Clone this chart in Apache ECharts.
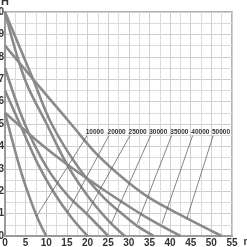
<!DOCTYPE html>
<html>
<head>
<meta charset="utf-8">
<script src="https://cdn.jsdelivr.net/npm/echarts@6/dist/echarts.min.js"></script>
<style>html,body{margin:0;padding:0;background:#fff}#c{width:247px;height:247px}</style>
</head>
<body>
<div id="c"></div>
<script>
const models = ['10000', '20000', '25000', '30000', '35000', '40000', '50000'];
const curve10000 = [[0,5.5],[2,4.1],[4,2.8],[6,1.7],[8,0.75],[10,0]];
const curve20000 = [[0,6.5],[3.6,5],[8,3.2],[12,1.9],[16,0.85],[20,0]];
const curve25000 = [[0,7.5],[4.8,5],[10,3.1],[15,1.85],[20,0.95],[25,0]];
const curve30000 = [[0,10],[4.8,7],[10.1,5],[15,3.2],[20,1.8],[25,0.7],[29,0]];
const curve35000 = [[0,10],[6.8,7],[11.3,5],[18,3],[24,1.7],[28.7,0.94],[32,0.45],[36,0]];
const curve40000 = [[0,5.5],[8.4,4.15],[15,3.2],[22,2.3],[28.5,1.5],[35,0.75],[42.5,0]];
const curve50000 = [[0,8.5],[5,7.4],[10,6.3],[16,5.0],[22,3.7],[28.5,2.6],[35,1.7],[44,0.8],[52.5,0]];
const curves = [curve10000, curve20000, curve25000, curve30000, curve35000, curve40000, curve50000];
// leader lines: label anchor -> point on curve
const leaderFrom = [[19.8,4.46],[25.1,4.46],[30.2,4.46],[35.2,4.46],[40.3,4.46],[45.4,4.46],[50.4,4.46]];
const leaderTo = [[7.7,0.9],[15.2,1.07],[20.0,1.07],[25.8,0.58],[32.1,0.58],[38.1,0.58],[44.1,0.8]];
const xTicks = [0,5,10,15,20,25,30,35,40,45,50,55];
const yTicks = [0,1,2,3,4,5,6,7,8,9,10];

const FONT = 'Liberation Sans Narrow, Liberation Sans, Arial';
const chart = echarts.init(document.getElementById('c'), null, {renderer: 'canvas'});
const series = [];
curves.forEach((c) => {
  series.push({
    type: 'line', data: c, smooth: 0.35, symbol: 'none', silent: true,
    lineStyle: {color: '#8a8a8a', width: 2.6}
  });
});
models.forEach((m, i) => {
  series.push({
    type: 'line', symbol: 'circle', symbolSize: 1, showSymbol: true, silent: true,
    itemStyle: {color: '#666'},
    lineStyle: {color: '#666', width: 0.8},
    data: [
      {value: leaderFrom[i], label: {show: true, formatter: m, position: 'top', offset: [8, 1], distance: 1,
        color: '#333', fontSize: 6.5, fontWeight: 'bold', fontFamily: 'Liberation Sans, Arial'}},
      {value: leaderTo[i], label: {show: false}}
    ]
  });
});

chart.setOption({
  animation: false,
  grid: {left: 5, top: 12, right: 15, bottom: 11, containLabel: false, outerBoundsMode: 'none',
    show: true, borderColor: '#9a9a9a', borderWidth: 1.5, backgroundColor: '#fff'},
  xAxis: {
    type: 'value', min: 0, max: 55, interval: 5,
    name: 'm³', nameLocation: 'end', nameGap: 3,
    nameTextStyle: {color: '#333', fontSize: 10, fontWeight: 'bold', verticalAlign: 'top', align: 'left', padding: [1,0,0,0], fontFamily: FONT},
    axisLine: {show: true, lineStyle: {color: '#9a9a9a', width: 2}},
    axisTick: {show: false},
    axisLabel: {show: true, margin: 2, color: '#333', fontSize: 10, fontWeight: 'bold', fontFamily: FONT,
      customValues: xTicks, formatter: v => String(v)},
    splitLine: {show: true, lineStyle: {color: '#cfcfcf', width: 1}},
    minorTick: {show: false, splitNumber: 2},
    minorSplitLine: {show: true, lineStyle: {color: '#dcdcdc', width: 1}}
  },
  yAxis: {
    type: 'value', min: 0, max: 10, interval: 1,
    name: 'H', nameLocation: 'end', nameGap: -2,
    nameTextStyle: {color: '#333', fontSize: 11, fontWeight: 'bold', fontFamily: 'Liberation Sans, Arial', align: 'center', verticalAlign: 'bottom'},
    axisLine: {show: true, lineStyle: {color: '#9a9a9a', width: 2}},
    axisTick: {show: false},
    axisLabel: {show: true, margin: 1, color: '#333', fontSize: 10, fontWeight: 'bold', fontFamily: FONT,
      customValues: yTicks},
    splitLine: {show: true, lineStyle: {color: '#cfcfcf', width: 1}},
    minorTick: {show: false, splitNumber: 2},
    minorSplitLine: {show: true, lineStyle: {color: '#dcdcdc', width: 1}}
  },
  series: series
});
</script>
</body>
</html>
